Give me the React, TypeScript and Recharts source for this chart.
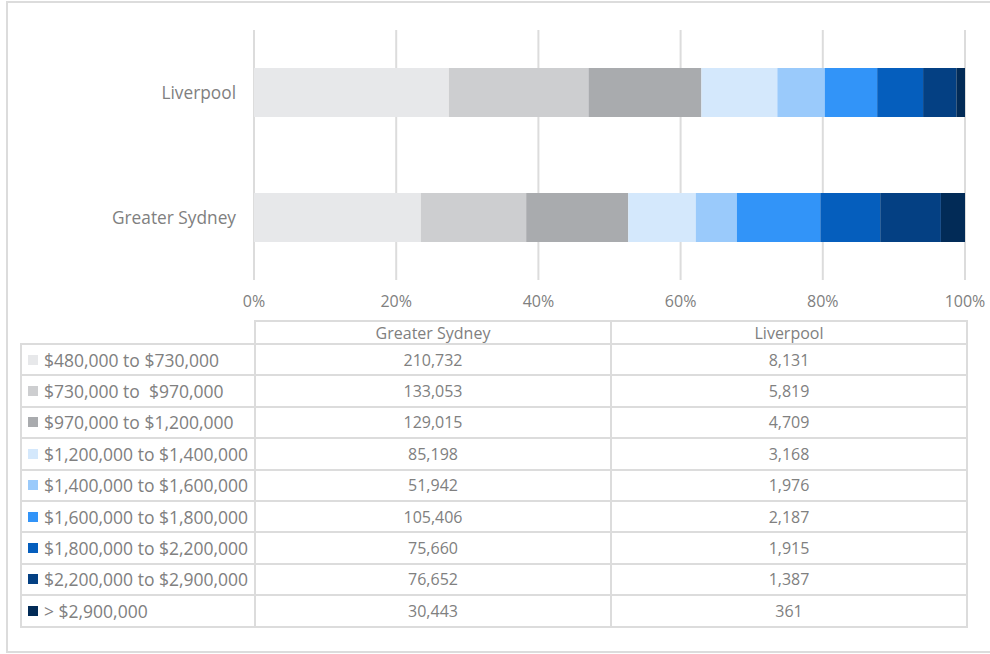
import { Bar, BarChart, CartesianGrid, XAxis, YAxis } from 'recharts'

const regions = ['Greater Sydney', 'Liverpool']

const priceBands = [
  '$480,000 to $730,000',
  '$730,000 to  $970,000',
  '$970,000 to $1,200,000',
  '$1,200,000 to $1,400,000',
  '$1,400,000 to $1,600,000',
  '$1,600,000 to $1,800,000',
  '$1,800,000 to $2,200,000',
  '$2,200,000 to $2,900,000',
  '> $2,900,000',
]

const sydneyValues = [210732, 133053, 129015, 85198, 51942, 105406, 75660, 76652, 30443]
const liverpoolValues = [8131, 5819, 4709, 3168, 1976, 2187, 1915, 1387, 361]

const bandColors = [
  '#E7E8EA',
  '#CDCED0',
  '#A9ABAE',
  '#D4E8FC',
  '#9ACAFB',
  '#3294F8',
  '#055EBD',
  '#044083',
  '#022B57',
]

const xTicks = [0, 0.2, 0.4, 0.6, 0.8, 1]

const FONT = '"Open Sans", sans-serif'
const TEXT = '#808080'
const LINE = '#dcdcdc'

const valuesByRegion: Record<string, number[]> = {
  'Greater Sydney': sydneyValues,
  Liverpool: liverpoolValues,
}

// chart draws top to bottom, so Liverpool goes first
const chartData = [...regions].reverse().map((r) => {
  const row: Record<string, string | number> = { region: r }
  priceBands.forEach((b, i) => {
    row['b' + i] = valuesByRegion[r][i]
  })
  return row
})

const fmt = (n: number) => n.toLocaleString('en-US')

const TABLE_LEFT = 20
const COL_X = [254, 610, 966]
const HEADER_TOP = 320
const ROW_TOP = 343
const ROW_H = 31.4

export default function App() {
  const cell = {
    position: 'absolute' as const,
    boxSizing: 'border-box' as const,
    border: `2px solid ${LINE}`,
    display: 'flex',
    alignItems: 'center',
    fontFamily: FONT,
    fontSize: 16,
    color: TEXT,
    whiteSpace: 'pre' as const,
  }

  return (
    <div
      style={{
        position: 'absolute',
        left: 0,
        top: 0,
        width: 990,
        height: 654,
        background: '#fff',
        fontFamily: FONT,
      }}
    >
      <div
        style={{
          position: 'absolute',
          left: 6,
          top: 1,
          width: 990,
          height: 652,
          border: `2px solid ${LINE}`,
          boxSizing: 'border-box',
        }}
      />
      <div style={{ position: 'absolute', left: 0, top: 0 }}>
        <BarChart
          width={990}
          height={320}
          data={chartData}
          layout="vertical"
          stackOffset="expand"
          margin={{ top: 30, right: 25, bottom: 10, left: 0 }}
        >
          <CartesianGrid horizontal={false} stroke={LINE} strokeWidth={2} />
          <XAxis
            type="number"
            domain={[0, 1]}
            ticks={xTicks}
            tickFormatter={(v: number) => `${Math.round(v * 100)}%`}
            axisLine={false}
            tickLine={false}
            tick={{ fill: TEXT, fontSize: 16, fontFamily: FONT }}
            tickMargin={10}
            height={30}
            interval={0}
          />
          <YAxis
            type="category"
            dataKey="region"
            width={254}
            axisLine={false}
            tickLine={false}
            tick={{ fill: TEXT, fontSize: 17.3, fontFamily: FONT }}
            tickMargin={12}
          />
          {priceBands.map((b, i) => (
            <Bar
              key={b}
              dataKey={'b' + i}
              name={b}
              stackId="s"
              fill={bandColors[i]}
              barSize={49}
              isAnimationActive={false}
            />
          ))}
        </BarChart>
      </div>

      {/* data table under the chart */}
      {regions.map((r, c) => (
        <div
          key={r}
          style={{
            ...cell,
            left: COL_X[c],
            top: HEADER_TOP,
            width: COL_X[c + 1] - COL_X[c] + 2,
            height: ROW_TOP - HEADER_TOP + 2,
            justifyContent: 'center',
          }}
        >
          {r}
        </div>
      ))}
      {priceBands.map((b, i) => (
        <div key={b}>
          <div
            style={{
              ...cell,
              left: TABLE_LEFT,
              top: ROW_TOP + i * ROW_H,
              width: COL_X[0] - TABLE_LEFT + 2,
              height: ROW_H + 2,
              paddingLeft: 6,
              fontSize: 17.5,
            }}
          >
            <span
              style={{
                display: 'inline-block',
                width: 10,
                height: 10,
                background: bandColors[i],
                marginRight: 6,
              }}
            />
            {b}
          </div>
          {regions.map((r, c) => (
            <div
              key={r}
              style={{
                ...cell,
                left: COL_X[c],
                top: ROW_TOP + i * ROW_H,
                width: COL_X[c + 1] - COL_X[c] + 2,
                height: ROW_H + 2,
                justifyContent: 'center',
              }}
            >
              {fmt(valuesByRegion[r][i])}
            </div>
          ))}
        </div>
      ))}
    </div>
  )
}
